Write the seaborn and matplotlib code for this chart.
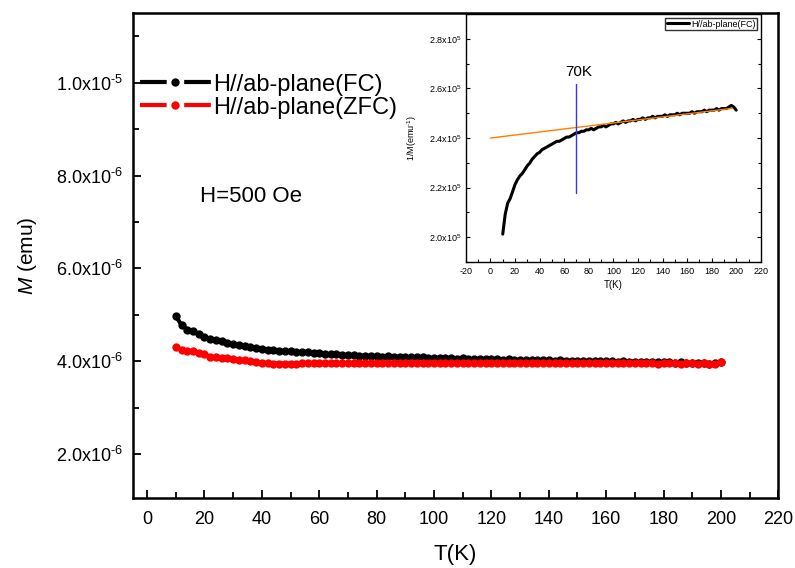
import numpy as np
import pandas as pd
import matplotlib
matplotlib.use('Agg')
import matplotlib.pyplot as plt
from matplotlib.ticker import MultipleLocator, FuncFormatter
import seaborn as sns

# temperature grid (K)
T = np.arange(10, 201, 2)

# M (units of 1e-6 emu)
m_fc = [4.97, 4.78, 4.68, 4.64, 4.58, 4.52, 4.48, 4.45, 4.43, 4.40,
        4.37, 4.35, 4.32, 4.30, 4.28, 4.27, 4.25, 4.24, 4.23, 4.22,
        4.21, 4.20, 4.19, 4.19, 4.18, 4.17, 4.16, 4.16, 4.15, 4.14,
        4.13, 4.13, 4.12, 4.12, 4.11, 4.11, 4.10, 4.11, 4.10, 4.09,
        4.09, 4.08, 4.09, 4.08, 4.07, 4.07, 4.06, 4.07, 4.06, 4.05,
        4.06, 4.05, 4.05, 4.04, 4.05, 4.04, 4.04, 4.03, 4.04, 4.03,
        4.03, 4.02, 4.03, 4.02, 4.02, 4.02, 4.01, 4.02, 4.01, 4.01,
        4.01, 4.00, 4.01, 4.00, 4.00, 4.00, 4.00, 3.99, 4.00, 3.99,
        3.99, 3.99, 3.98, 3.99, 3.98, 3.98, 3.98, 3.97, 3.98, 3.97,
        3.97, 3.97, 3.96, 3.95, 3.96, 3.98]
m_zfc = [4.30, 4.25, 4.23, 4.21, 4.17, 4.15, 4.10, 4.08, 4.07, 4.06,
         4.05, 4.03, 4.02, 4.00, 3.98, 3.97, 3.96, 3.95, 3.95, 3.95,
         3.95, 3.95, 3.96, 3.96, 3.96, 3.96, 3.97, 3.96, 3.96, 3.97,
         3.96, 3.97, 3.97, 3.96, 3.97, 3.97, 3.96, 3.97, 3.97, 3.97,
         3.96, 3.97, 3.97, 3.96, 3.97, 3.97, 3.97, 3.96, 3.97, 3.97,
         3.96, 3.97, 3.97, 3.97, 3.96, 3.97, 3.97, 3.96, 3.96, 3.97,
         3.97, 3.96, 3.97, 3.96, 3.96, 3.97, 3.96, 3.96, 3.96, 3.97,
         3.96, 3.96, 3.97, 3.96, 3.96, 3.96, 3.97, 3.96, 3.96, 3.96,
         3.96, 3.97, 3.96, 3.96, 3.95, 3.96, 3.96, 3.96, 3.95, 3.96,
         3.96, 3.95, 3.96, 3.95, 3.95, 3.98]

# linear fit drawn in the inset (1/M vs T)
fit_T = [0, 197]
fit_inv = [2.40e5, 2.52e5]
mark_T = 70
mark_y = [2.18e5, 2.62e5]

df = pd.DataFrame({'T': T, 'FC': np.array(m_fc) * 1e-6, 'ZFC': np.array(m_zfc) * 1e-6})
df['invFC'] = 1.0 / df['FC']

sns.set_theme(style='ticks')
plt.rcParams['font.family'] = ['Liberation Sans', 'DejaVu Sans']
plt.rcParams['mathtext.fontset'] = 'custom'
plt.rcParams['mathtext.rm'] = 'Liberation Sans'
plt.rcParams['mathtext.it'] = 'Liberation Sans:italic'
plt.rcParams['axes.unicode_minus'] = False
for k in ['text.color', 'axes.labelcolor', 'xtick.color', 'ytick.color', 'axes.edgecolor']:
    plt.rcParams[k] = 'black'

fig = plt.figure(figsize=(7.95, 5.68), dpi=100)
ax = fig.add_axes([0.167, 0.123, 0.812, 0.854])

sns.lineplot(data=df, x='T', y='FC', ax=ax, color='black', marker='o', markersize=6,
             markeredgewidth=0, linestyle='-.', linewidth=3, label='H//ab-plane(FC)')
sns.lineplot(data=df, x='T', y='ZFC', ax=ax, color='red', marker='o', markersize=6,
             markeredgewidth=0, linestyle='-.', linewidth=3, label='H//ab-plane(ZFC)')

ax.set_xlim(-5, 220)
ax.set_ylim(1.05e-6, 1.15e-5)
ax.xaxis.set_major_locator(MultipleLocator(20))
ax.xaxis.set_minor_locator(MultipleLocator(10))
ax.yaxis.set_major_locator(MultipleLocator(2e-6))
ax.yaxis.set_minor_locator(MultipleLocator(1e-6))


def sci_fmt(v, pos):
    if v == 0:
        return '0'
    e = int(np.floor(np.log10(abs(v)) + 1e-9))
    sup = ('\u2010%d' % -e) if e < 0 else '%d' % e
    return r'%.1fx10$^{%s}$' % (v / 10 ** e, sup)


ax.yaxis.set_major_formatter(FuncFormatter(sci_fmt))
ax.tick_params(which='both', direction='in', labelsize=13, width=1.3)
ax.tick_params(axis='x', pad=9)
ax.tick_params(axis='y', pad=7)
ax.tick_params(which='major', length=6)
ax.tick_params(which='minor', length=4)
for s in ax.spines.values():
    s.set_linewidth(1.8)
ax.set_xlabel('T(K)', fontsize=16, labelpad=12)
ax.set_ylabel(r'$M$ (emu)', fontsize=15, labelpad=12)
ax.text(18.5, 7.55e-6, 'H=500 Oe', fontsize=16, va='center')
ax.legend(loc='upper left', bbox_to_anchor=(0.0, 0.89), frameon=False, fontsize=17,
          handlelength=3.0, handletextpad=0.1, labelspacing=0.05, borderaxespad=0.2,
          borderpad=0.1)

# inset
ins = fig.add_axes([0.586, 0.539, 0.371, 0.436])
sns.lineplot(data=df, x='T', y='invFC', ax=ins, color='black', linewidth=2.2,
             label='H//ab-plane(FC)')
ins.plot(fit_T, fit_inv, color='#ff7f00', linewidth=1)
ins.plot([mark_T, mark_T], mark_y, color='#3333ff', linewidth=1)
ins.text(72, 2.665e5, '70K', fontsize=11, ha='center', va='center')
ins.set_xlim(-20, 220)
ins.set_ylim(1.9e5, 2.9e5)
ins.xaxis.set_major_locator(MultipleLocator(20))
ins.xaxis.set_minor_locator(MultipleLocator(10))
ins.yaxis.set_major_locator(MultipleLocator(0.2e5))
ins.yaxis.set_minor_locator(MultipleLocator(0.1e5))
ins.yaxis.set_major_formatter(FuncFormatter(sci_fmt))
ins.tick_params(which='both', direction='in', labelsize=6.5, right=True, width=0.8)
ins.tick_params(which='major', length=3)
ins.tick_params(which='minor', length=2)
for s in ins.spines.values():
    s.set_linewidth(1)
ins.set_xlabel('T(K)', fontsize=7, labelpad=3)
ins.set_ylabel('1/M(emu$^{\u20101}$)', fontsize=6.5, labelpad=7)
ins.legend(loc='upper right', fontsize=6.5, frameon=True, fancybox=False, edgecolor='black',
           handlelength=2.5, handletextpad=0.2, borderpad=0.2, borderaxespad=0.4)

fig.savefig('out.png', dpi=100)
